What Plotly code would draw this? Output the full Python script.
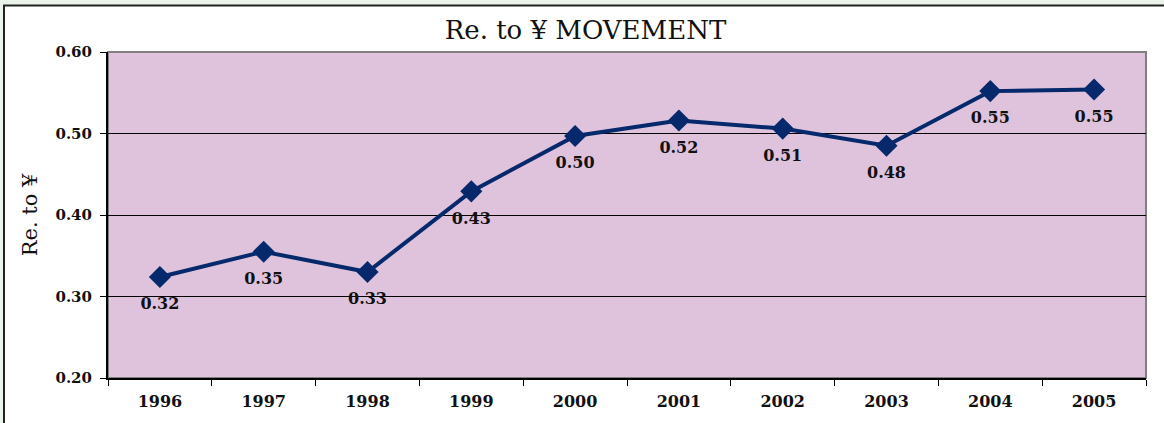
import plotly.graph_objects as go

years = ["1996", "1997", "1998", "1999", "2000", "2001", "2002", "2003", "2004", "2005"]
rate = [0.324, 0.355, 0.330, 0.429, 0.497, 0.516, 0.506, 0.485, 0.552, 0.554]
y_ticks = [0.20, 0.30, 0.40, 0.50, 0.60]

serif = "DejaVu Serif, Liberation Serif, serif"
navy = "#06296C"

fig = go.Figure()
fig.add_trace(go.Scatter(
    x=years, y=rate, mode="lines+markers",
    line=dict(color=navy, width=4),
    marker=dict(symbol="diamond", size=17, color=navy),
    showlegend=False,
))
fig.add_trace(go.Scatter(
    x=years, y=rate, mode="markers+text",
    marker=dict(size=31, color="rgba(0,0,0,0)"),
    text=[f"{v:.2f}" for v in rate],
    textposition="bottom center",
    textfont=dict(family=serif, size=16, color="#111111", weight="bold"),
    cliponaxis=False, showlegend=False, hoverinfo="skip",
))

fig.update_layout(
    width=1164, height=423,
    margin=dict(l=108, r=18, t=52, b=43),
    paper_bgcolor="#E9F3EA",
    plot_bgcolor="rgba(0,0,0,0)",
    title=dict(text="Re. to ¥ MOVEMENT", x=0.503, xanchor="center", y=0.93, yanchor="middle",
               font=dict(family=serif, size=26, color="#111111")),
    shapes=[
        dict(type="rect", xref="paper", yref="paper", x0=-0.1002, x1=1.2, y0=-0.3, y1=1.143,
             fillcolor="white", line=dict(color="#222222", width=2), layer="below"),
        dict(type="rect", xref="paper", yref="paper", x0=0, x1=1, y0=0, y1=1,
             fillcolor="#DFC3DD", line=dict(color="#808080", width=2), layer="below"),
    ],
)

fig.update_xaxes(
    type="category", range=[-0.5, 9.5], tickson="boundaries", ticks="outside", ticklen=6,
    tickcolor="black", ticklabelstandoff=8,
    showline=True, linecolor="black", linewidth=2, showgrid=False,
    tickfont=dict(family=serif, size=16, color="#111111", weight="bold"),
)
fig.update_yaxes(
    range=[0.2, 0.6], tickvals=y_ticks, ticktext=[f"{v:.2f}" for v in y_ticks],
    ticks="outside", ticklen=6, tickcolor="black", ticklabelstandoff=5,
    showline=True, linecolor="black", linewidth=2,
    showgrid=True, gridcolor="black", gridwidth=1, zeroline=False,
    tickfont=dict(family=serif, size=15, color="#111111", weight="bold"),
    title=dict(text="Re. to ¥", font=dict(family=serif, size=21, color="#111111"), standoff=12),
)

fig.write_html("out.html", config={"displayModeBar": False},
               post_script="document.body.style.margin='0';document.body.style.overflow='hidden';")
